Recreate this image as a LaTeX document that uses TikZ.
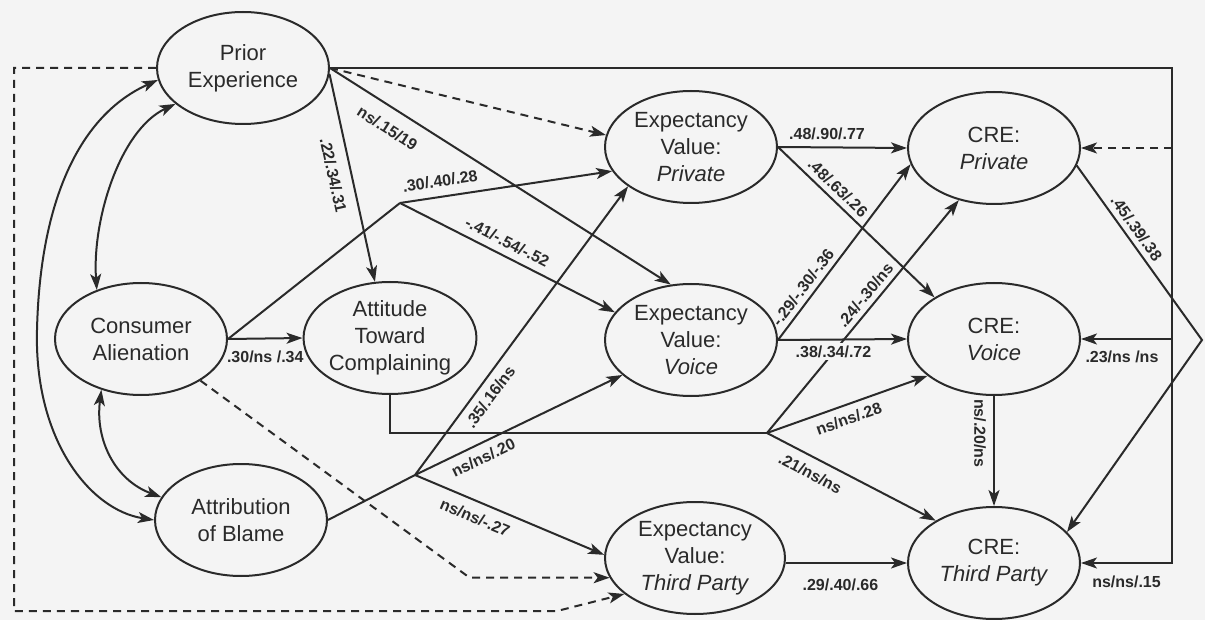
\documentclass[tikz,border=0pt]{standalone}
\usepackage{fontspec}
\setmainfont{Liberation Sans}
\usetikzlibrary{arrows.meta,shapes.geometric,calc}
\definecolor{ink}{HTML}{2A2A2A}
\definecolor{paper}{HTML}{F4F4F4}
\begin{document}
\begin{tikzpicture}[x=0.5pt,y=-0.5pt,
  var/.style={draw=ink, line width=1pt, ellipse, minimum width=86pt, minimum height=56pt,
    inner sep=0pt, align=center, text=ink, font=\fontsize{11}{13.5}\selectfont},
  con/.style={draw=ink, line width=1pt},
  tipA/.tip={Stealth[length=8pt,width=5.5pt,inset=2pt]},
  arr/.style={con, -tipA},
  biarr/.style={con, tipA-tipA},
  dsh/.style={dash pattern=on 4pt off 3pt},
  lbl/.style={font=\bfseries\fontsize{8}{9}\selectfont, text=ink, inner sep=2.5pt},
]
\fill[paper] (0,0) rectangle (1205,620);
\useasboundingbox (0,0) rectangle (1205,620);

% variables
\node[var] (prior) at (243,68) {Prior\\Experience};
\node[var] (alien) at (141,339) {Consumer\\Alienation};
\node[var] (att) at (390,338) {Attitude\\Toward\\Complaining};
\node[var] (attr) at (241,520) {Attribution\\of Blame};
\node[var] (evp) at (691,147) {Expectancy\\Value:\\\textit{Private}};
\node[var] (evv) at (691,340) {Expectancy\\Value:\\\textit{Voice}};
\node[var, minimum width=90pt] (evt) at (695,558) {Expectancy\\Value:\\\textit{Third Party}};
\node[var] (crep) at (994,148) {CRE:\\\textit{Private}};
\node[var] (crev) at (994,339) {CRE:\\\textit{Voice}};
\node[var] (cre3) at (994,563) {CRE:\\\textit{Third Party}};

% helper points
\coordinate (rt) at (1172,68);
\coordinate (j1) at (400,203);
\coordinate (j2) at (767,433);
\coordinate (j3) at (415,475);
\coordinate (tip) at (1202,340);
\coordinate (lt) at (14,68);
\coordinate (lb) at (14,611);
\coordinate (bm) at (557,611);

% left curved correlations
\draw[biarr] (prior.188) .. controls (80,115) and (40,200) .. (37,330)
  .. controls (34,440) and (90,510) .. (attr.180);
\draw[biarr] (prior.208) .. controls (120,130) and (92,220) .. (alien.132);
\draw[biarr] (alien.232) .. controls (95,440) and (115,480) .. (attr.164);

% dashed loop from prior experience
\draw[arr,dsh] (prior.west) -- (lt) -- (lb) -- (bm) -- (evt.207);

% prior experience paths
\draw[arr] (prior.east) -- (rt) |- (cre3.east);
\draw[arr,dsh] (rt |- crep.east) -- (crep.east);
\draw[arr] (rt |- crev.east) -- (crev.east) node[lbl,below=3pt,pos=0.55] {.23/ns /ns};
\path (rt |- cre3.east) -- (cre3.east) node[lbl,below=4pt,pos=0.5] {ns/ns/.15};
\draw[arr,dsh] (prior.east) -- (evp.172);
\draw[arr] (prior.east) -- (evv.110) node[lbl,sloped,below=4pt,pos=0.2] {ns/.15/19};
\draw[arr] (prior.-4) -- (att.105) node[lbl,sloped,below=3pt,pos=0.47] {.22/.34/.31};

% consumer alienation paths
\draw[arr] (alien.east) -- (att.west) node[lbl,below=3pt,pos=0.5] {.30/ns /.34};
\draw[con] (alien.east) -- (j1);
\draw[arr] (j1) -- (evp.197) node[lbl,sloped,above=2pt,pos=0.2] {.30/.40/.28};
\draw[arr] (j1) -- (evv.160) node[lbl,sloped,above=1pt,pos=0.47] {-.41/-.54/-.52};
\draw[arr,dsh] (alien.-35) -- ($(evt.193)+(-140,0)$) -- (evt.193);

% attitude paths
\draw[con] (att.south) |- (j2);
\draw[arr] (j2) -- (crep.236) node[lbl,sloped,above,pos=0.56] {.24/-.30/ns};
\draw[arr] (j2) -- (crev.209) node[lbl,sloped,below=1pt,pos=0.48] {ns/ns/.28};
\draw[arr] (j2) -- (cre3.144) node[lbl,sloped,below=2pt,pos=0.3] {.21/ns/ns};

% attribution paths
\draw[con] (attr.east) -- (j3);
\draw[arr] (j3) -- (evp.212) node[lbl,sloped,below=1pt,pos=0.3] {.35/.16/ns};
\draw[arr] (j3) -- (evv.207) node[lbl,sloped,below=1pt,pos=0.3] {ns/ns/.20};
\draw[arr] (j3) -- (evt.178) node[lbl,sloped,below=2pt,pos=0.35] {ns/ns/-.27};

% expectancy value paths
\draw[arr] (evp.east) -- (crep.west) node[lbl,above=1pt,pos=0.38] {.48/.90/.77};
\draw[arr] (evp.east) -- (crev.145) node[lbl,sloped,above,pos=0.33] {.48/.63/.26};
\draw[arr] (evv.east) -- (crep.191) node[lbl,sloped,above,pos=0.26] {-.29/-.30/-.36};
\draw[arr] (evv.east) -- (crev.west) node[lbl,below=1pt,pos=0.43,fill=paper,inner sep=1.5pt] {.38/.34/.72};
\draw[arr] (cre3.west -| evt.east) -- (cre3.west) node[lbl,below=5pt,pos=0.45] {.29/.40/.66};

% CRE paths
\draw[arr] (crev.south) -- (cre3.north) node[lbl,sloped,below=1pt,pos=0.34] {ns/.20/ns};
\draw[arr] (crep.-12) -- node[lbl,sloped,above,pos=0.4] {.45/.39/.38} (tip) -- (cre3.23);
\end{tikzpicture}
\end{document}
